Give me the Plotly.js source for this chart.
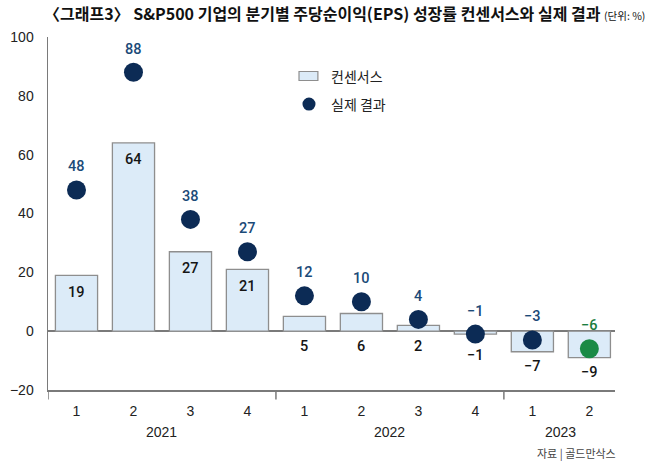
<!DOCTYPE html>
<html>
<head>
<meta charset="utf-8">
<script src="https://cdn.plot.ly/plotly-3.0.1.min.js"></script>
<style>html,body{margin:0;padding:0;background:#fff;}#chart{width:650px;height:462px;}</style>
</head>
<body>
<div id="chart"></div>
<script>
// ---- data ----
const quarters = ['1','2','3','4','1','2','3','4','1','2'];
const years = ['2021','2022','2023'];
const yearCounts = [4,4,2];
const consensus = [19,64,27,21,5,6,2,-1,-7,-9];
const actual = [48,88,38,27,12,10,4,-1,-3,-6];
const yTicks = [-20,0,20,40,60,80,100];
const titleText = '〈그래프3〉 S&P500 기업의 분기별 주당순이익(EPS) 성장률 컨센서스와 실제 결과';
const unitText = '(단위: %)';
const sourceText = '자료 | 골드만삭스';
const legendNames = ['컨센서스','실제 결과'];

// ---- styling ----
const NAVY = '#0c2b55', NAVY_TXT = '#1b4a78', GREEN = '#1a8a45', GREEN_TXT = '#1b7d3e';
const BAR_FILL = '#dcebf8', BAR_LINE = '#8e8e8e', AXIS = '#7a7a7a';
const NUMFONT = 'Liberation Sans, Arial, sans-serif';
const LBLFONT = 'Roboto, Liberation Sans, sans-serif';
const KRFONT = 'Noto Sans CJK KR, sans-serif';
const fmt = v => (v < 0 ? '\u2212' + Math.abs(v) : String(v));

const xs = quarters.map((q, i) => i);
const lastIdx = actual.length - 1;
const dotColors = actual.map((v, i) => i === lastIdx ? GREEN : NAVY);
const dotTxtColors = actual.map((v, i) => i === lastIdx ? GREEN_TXT : NAVY_TXT);

const traces = [
  {
    type: 'bar', x: xs, y: consensus, width: 0.74, name: legendNames[0],
    marker: {color: BAR_FILL, line: {color: BAR_LINE, width: 1.3}},
    hoverinfo: 'skip', showlegend: false
  },
  {
    type: 'scatter', mode: 'markers', x: xs, y: actual, name: legendNames[1],
    marker: {size: 19, color: dotColors},
    hoverinfo: 'skip', showlegend: false
  }
];

const annotations = [];
// consensus labels
consensus.forEach((v, i) => {
  let y = v, ys;
  if (v >= 15) { ys = -17; }
  else if (v >= 0) { y = 0; ys = -15; }
  else { ys = (v > -3) ? -21 : -15; }
  annotations.push({x: i, y: y, yshift: ys, text: fmt(v), showarrow: false,
    xanchor: 'center', yanchor: 'middle',
    font: {family: LBLFONT, size: 14.5, weight: 500, color: '#151515'}});
});
// actual labels
actual.forEach((v, i) => {
  annotations.push({x: i, y: v, yshift: 23, text: fmt(v), showarrow: false,
    xanchor: 'center', yanchor: 'middle',
    font: {family: LBLFONT, size: 14.5, weight: 500, color: dotTxtColors[i]}});
});
// year labels and dividers
const shapes = [];
let start = 0;
shapes.push({type: 'line', xref: 'x', yref: 'paper', x0: -0.5, x1: -0.5, y0: 0, y1: -0.027, line: {color: AXIS, width: 1.5}});
years.forEach((yr, k) => {
  const end = start + yearCounts[k];
  annotations.push({x: (start + end - 1) / 2, xref: 'x', y: -0.119, yref: 'paper', text: yr,
    showarrow: false, xanchor: 'center', yanchor: 'middle',
    font: {family: NUMFONT, size: 14, color: '#222'}});
  if (k < years.length - 1) {
    shapes.push({type: 'line', xref: 'x', yref: 'paper', x0: end - 0.5, x1: end - 0.5, y0: 0, y1: -0.027,
      line: {color: AXIS, width: 1.5}});
  }
  start = end;
});
// source
annotations.push({x: 1.005, xref: 'paper', y: -0.178, yref: 'paper', text: sourceText, showarrow: false,
  xanchor: 'right', yanchor: 'middle', font: {family: KRFONT, size: 11, color: '#444'}});
// legend
shapes.push({type: 'rect', xref: 'paper', yref: 'paper', x0: 0.4427, x1: 0.476, y0: 0.8768, y1: 0.9023,
  fillcolor: BAR_FILL, line: {color: BAR_LINE, width: 1.2}});
shapes.push({type: 'circle', xref: 'paper', yref: 'paper', x0: 0.4603 - 0.0115, x1: 0.4603 + 0.0115,
  y0: 0.810 - 0.0184, y1: 0.810 + 0.0184, fillcolor: NAVY, line: {width: 0}});
annotations.push({x: 0.4956, xref: 'paper', y: 0.8895, yref: 'paper', text: legendNames[0], showarrow: false,
  xanchor: 'left', yanchor: 'middle', font: {family: KRFONT, size: 14, color: '#222'}});
annotations.push({x: 0.4956, xref: 'paper', y: 0.810, yref: 'paper', text: legendNames[1], showarrow: false,
  xanchor: 'left', yanchor: 'middle', font: {family: KRFONT, size: 14, color: '#222'}});

const layout = {
  width: 650, height: 462,
  margin: {l: 48, r: 35, t: 37, b: 72},
  paper_bgcolor: '#fff', plot_bgcolor: '#fff',
  title: {
    text: '<b>' + titleText + '</b> <span style="font-size:10.5px;">' + unitText + '</span>',
    xref: 'container', yref: 'container', x: 44 / 650, xanchor: 'left', y: 1 - 14 / 462, yanchor: 'middle',
    font: {family: KRFONT, size: 16, color: '#111'}
  },
  xaxis: {
    range: [-0.5, 9.45], tickvals: xs, ticktext: quarters, ticks: '', showgrid: false,
    zeroline: false, showline: true, linecolor: AXIS, linewidth: 1.5,
    ticklabelstandoff: 8, tickfont: {family: NUMFONT, size: 14, color: '#222'}, fixedrange: true
  },
  yaxis: {
    range: [-20, 100], tickvals: yTicks, ticktext: yTicks.map(fmt), ticks: '', showgrid: false,
    zeroline: true, zerolinecolor: AXIS, zerolinewidth: 1.5,
    showline: true, linecolor: AXIS, linewidth: 1.5,
    ticklabelstandoff: 10, tickfont: {family: NUMFONT, size: 14, color: '#222'}, fixedrange: true
  },
  bargap: 0,
  showlegend: false,
  annotations: annotations,
  shapes: shapes
};

Plotly.newPlot('chart', traces, layout, {displayModeBar: false, staticPlot: true});
</script>
</body>
</html>
